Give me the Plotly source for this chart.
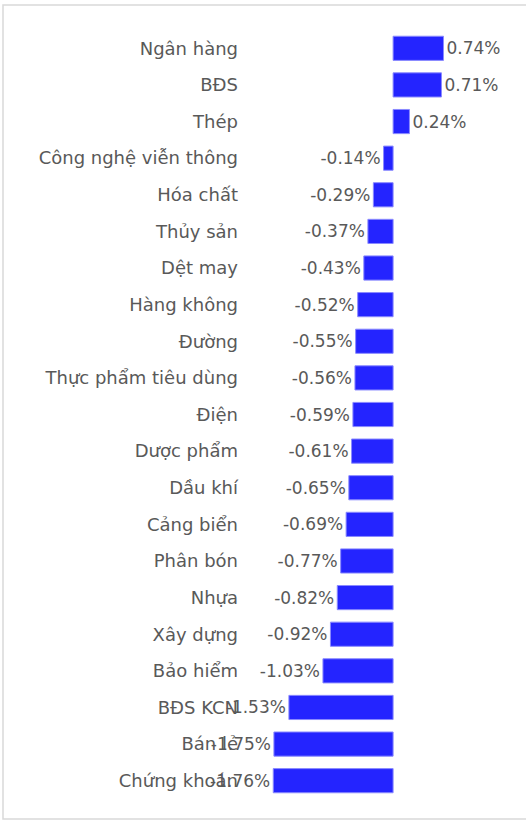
import plotly.graph_objects as go

categories = ["Ngân hàng", "BĐS", "Thép", "Công nghệ viễn thông", "Hóa chất", "Thủy sản",
              "Dệt may", "Hàng không", "Đường", "Thực phẩm tiêu dùng", "Điện", "Dược phẩm",
              "Dầu khí", "Cảng biển", "Phân bón", "Nhựa", "Xây dựng", "Bảo hiểm",
              "BĐS KCN", "Bán lẻ", "Chứng khoán"]
values = [0.74, 0.71, 0.24, -0.14, -0.29, -0.37, -0.43, -0.52, -0.55, -0.56, -0.59, -0.61,
          -0.65, -0.69, -0.77, -0.82, -0.92, -1.03, -1.53, -1.75, -1.76]

W, H = 526, 822
L, R, T, B = 246, 11, 30, 23
pw, ph = W - L - R, H - T - B

fig = go.Figure(go.Bar(
    x=values, y=categories, orientation="h",
    marker=dict(color="#2424ff", line=dict(color="#8a8aff", width=1)),
    width=0.66,
    text=[f"{v:.2f}%" for v in values],
    textposition="outside",
    textfont=dict(family="DejaVu Sans", size=17, color="#595959"),
    cliponaxis=False,
))

# outer frame
fig.add_shape(type="rect", xref="paper", yref="paper",
              x0=(3 - L) / pw, x1=(W + 5 - L) / pw,
              y0=(H - B - (H - 3)) / ph, y1=(H - B - 5) / ph,
              line=dict(color="#d9d9d9", width=1.5), fillcolor="rgba(0,0,0,0)", layer="below")

fig.update_layout(
    width=W, height=H,
    margin=dict(l=L, r=R, t=T, b=B),
    paper_bgcolor="white", plot_bgcolor="white",
    showlegend=False,
    xaxis=dict(range=[-2.16, 1.79], visible=False, fixedrange=True),
    yaxis=dict(autorange="reversed", showgrid=False, zeroline=False, showline=False,
               ticks="", automargin=False, ticklabelstandoff=7, fixedrange=True,
               tickfont=dict(family="DejaVu Sans", size=18, color="#595959")),
    font=dict(family="DejaVu Sans", color="#595959"),
)

fig.write_html("out.html", config={"displayModeBar": False},
               post_script="document.body.style.margin='0';document.body.style.overflow='hidden';")
